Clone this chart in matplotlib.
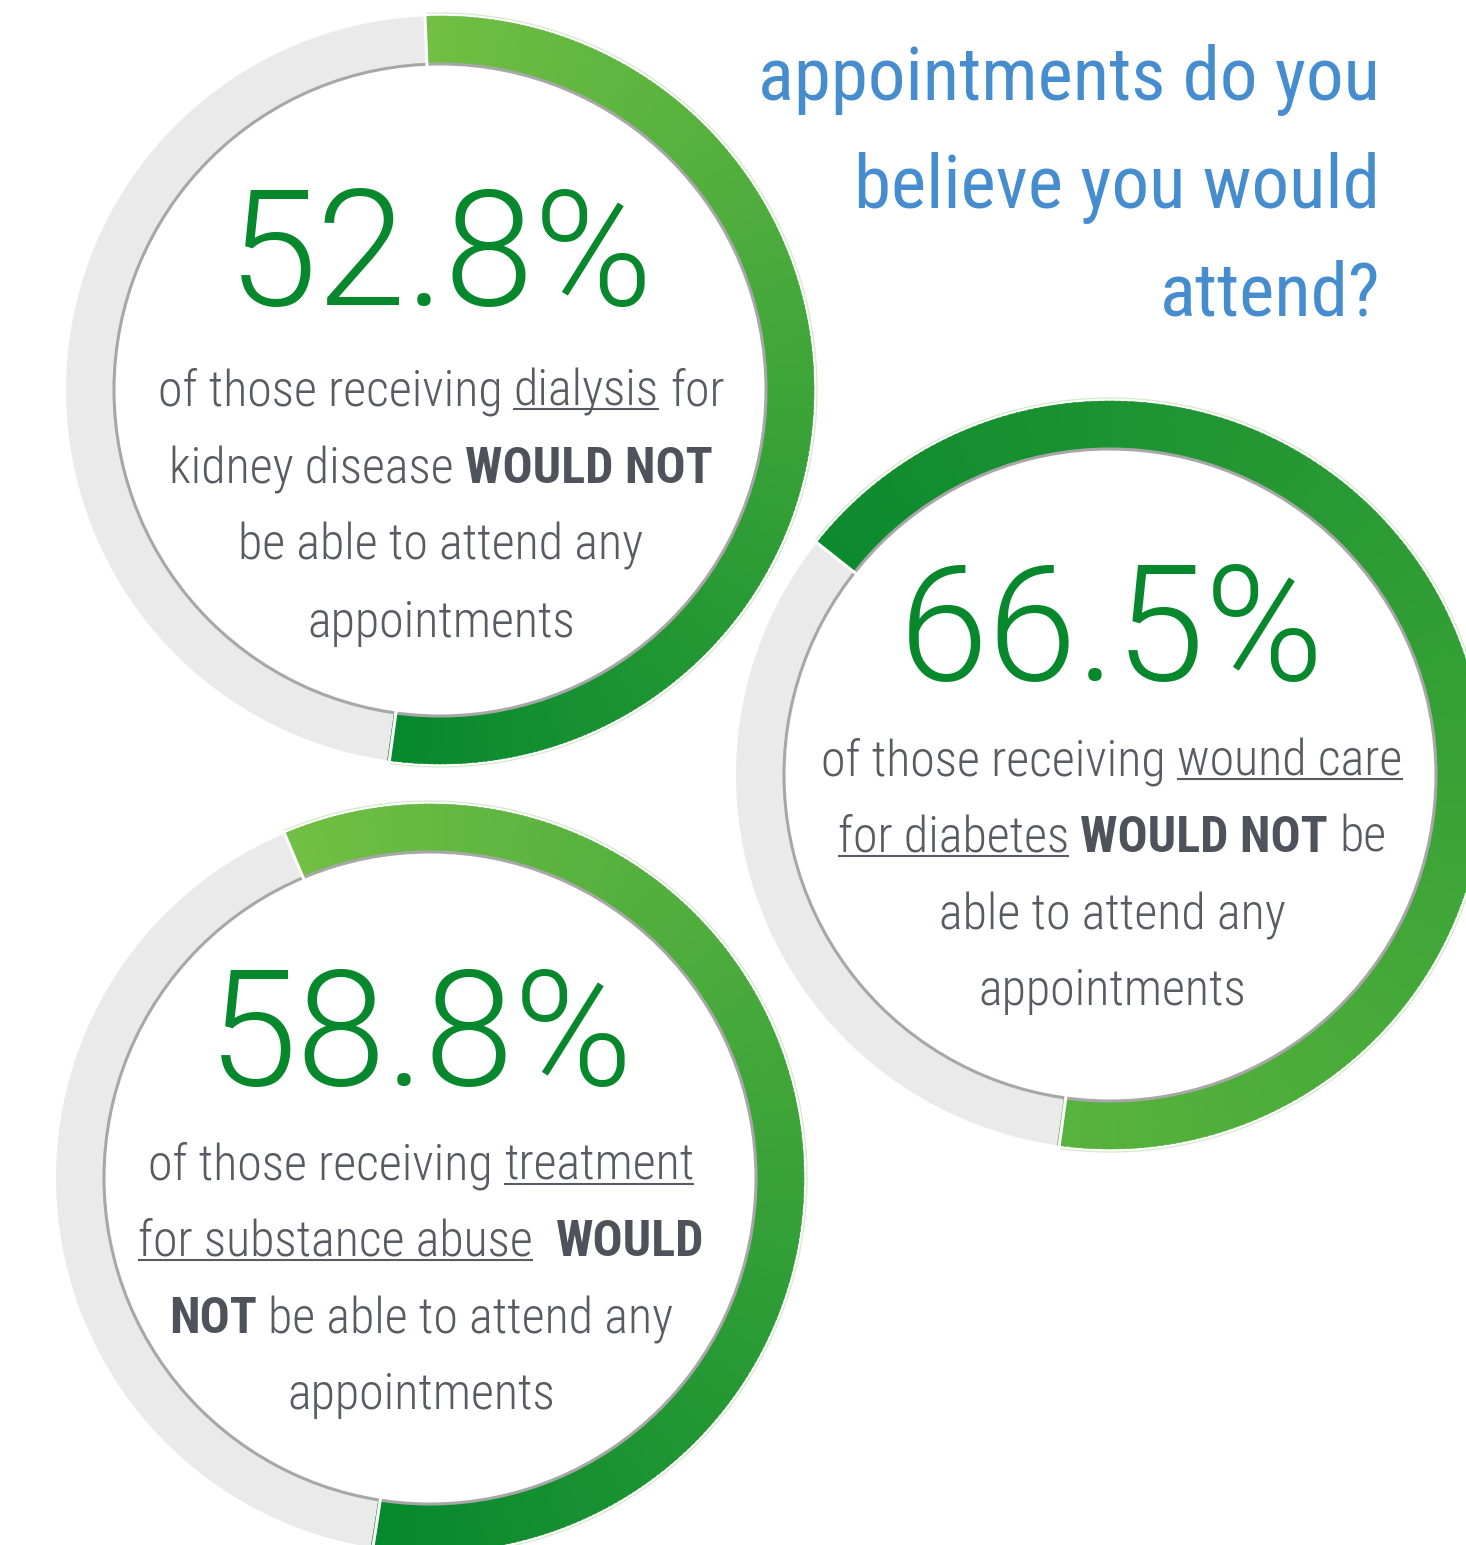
import numpy as np
import matplotlib
matplotlib.use("Agg")
import matplotlib.pyplot as plt
from matplotlib.patches import Wedge, Circle
from matplotlib.colors import to_rgb

# --- data -----------------------------------------------------------
values = [52.8, 66.5, 58.8]
labels = ["52.8%", "66.5%", "58.8%"]

# caption lines, each a list of (text, style): n = normal, u = underlined, b = bold
captions = [
    [[("of those receiving", "n"), ("dialysis", "u"), ("for", "n")],
     [("kidney disease", "n"), ("WOULD NOT", "b")],
     [("be able to attend any", "n")],
     [("appointments", "n")]],
    [[("of those receiving", "n"), ("wound care", "u")],
     [("for diabetes", "u"), ("WOULD NOT", "b"), ("be", "n")],
     [("able to attend any", "n")],
     [("appointments", "n")]],
    [[("of those receiving", "n"), ("treatment", "u")],
     [("for substance abuse", "u"), ("", "n"), ("WOULD", "b")],
     [("NOT", "b"), ("be able to attend any", "n")],
     [("appointments", "n")]],
]
title_lines = ["appointments do you", "believe you would", "attend?"]

# --- layout / style -------------------------------------------------
W, H = 1466, 1545
centers = [(440, 390), (1110, 775), (430, 1178)]
text_x = [441, 1112, 421]
start_clock = [-2.3, -51.6, -22.9]      # degrees clockwise from 12 o'clock
R_OUT, R_IN = 374, 326
grads = [("#71BF44", "#06882D"), ("#0C8A2E", "#58B33C"), ("#71BF44", "#06882D")]
num_base = [305, 680, 1085]
cap_base = [[405, 483, 560, 637], [775, 852, 929, 1005], [1180, 1256, 1333, 1409]]

RING_GRAY = "#EAEAEA"
TXT = "#575B62"
BOLD = "#4E525A"
GREEN_TXT = "#07882C"
BLUE = "#468DD0"

COND = ["Roboto Condensed", "DejaVu Sans"]
CAP_FS = 36

fig = plt.figure(figsize=(W / 100, H / 100), dpi=100)
ax = fig.add_axes([0, 0, 1, 1])
ax.set_xlim(0, W)
ax.set_ylim(H, 0)
ax.axis("off")
renderer = fig.canvas.get_renderer()


def theta(clock):
    # clock angle -> data angle (y axis is inverted)
    return clock - 90


def draw_ring(cx, cy, val, start, c0, c1):
    span = 3.6 * val
    end = start + span
    # grey remainder
    ax.add_patch(Wedge((cx, cy), R_OUT, theta(end), theta(start + 360),
                       width=R_OUT - R_IN, facecolor=RING_GRAY, edgecolor="none"))
    # gradient arc
    n = 240
    a0, a1 = np.array(to_rgb(c0)), np.array(to_rgb(c1))
    edges = np.linspace(start, end, n + 1)
    for i in range(n):
        t = i / (n - 1)
        col = a0 * (1 - t) + a1 * t
        ax.add_patch(Wedge((cx, cy), R_OUT, theta(edges[i]), theta(edges[i + 1]) + 0.3,
                           width=R_OUT - R_IN, facecolor=col, edgecolor=col, lw=0.3))
    # faint outer rim on the green part
    phi = np.radians(np.linspace(start, end, 300))
    ax.plot(cx + (R_OUT + 3) * np.sin(phi), cy - (R_OUT + 3) * np.cos(phi),
            color="#D3EBCB", lw=0.9)
    # white separators
    for a in (start, end):
        p = np.radians(a)
        ax.plot([cx + (R_IN - 2) * np.sin(p), cx + (R_OUT + 5) * np.sin(p)],
                [cy - (R_IN - 2) * np.cos(p), cy - (R_OUT + 5) * np.cos(p)],
                color="white", lw=2.2, solid_capstyle="butt")
    # inner disc
    ax.add_patch(Circle((cx, cy), R_IN, facecolor="white", edgecolor="#A7A7A7", lw=2.2))


def seg_props(kind):
    if kind == "b":
        return dict(family=COND, weight="bold", color=BOLD)
    return dict(family=COND, weight=300, color=TXT)


def width_of(s, kind):
    t = ax.text(0, 0, s, fontsize=CAP_FS, **seg_props(kind))
    w = t.get_window_extent(renderer).width
    t.remove()
    return w


SPACE = width_of("n n", "n") - width_of("nn", "n")


def draw_line(cx, y, segs):
    widths = [width_of(s, k) if s else 0 for s, k in segs]
    total = sum(widths) + SPACE * (len(segs) - 1)
    x = cx - total / 2
    for i, ((s, k), w) in enumerate(zip(segs, widths)):
        if i > 0:
            x += SPACE
        if s:
            ax.text(x, y, s, fontsize=CAP_FS, ha="left", va="baseline", **seg_props(k))
            if k == "u":
                ax.plot([x, x + w], [y + 4, y + 4], color=TXT, lw=1.5, solid_capstyle="butt")
        x += w


for i in range(3):
    cx, cy = centers[i]
    draw_ring(cx, cy, values[i], start_clock[i], *grads[i])
    ax.text(text_x[i], num_base[i], labels[i], fontsize=116, family=["Roboto", "DejaVu Sans"],
            weight=300, color=GREEN_TXT, ha="center", va="baseline")
    for y, segs in zip(cap_base[i], captions[i]):
        draw_line(text_x[i], y, segs)

for y, s in zip([100, 208, 316], title_lines):
    ax.text(1380, y, s, fontsize=54, family=COND, weight="normal", color=BLUE,
            ha="right", va="baseline")

fig.savefig("out.png", dpi=100, facecolor="white")
